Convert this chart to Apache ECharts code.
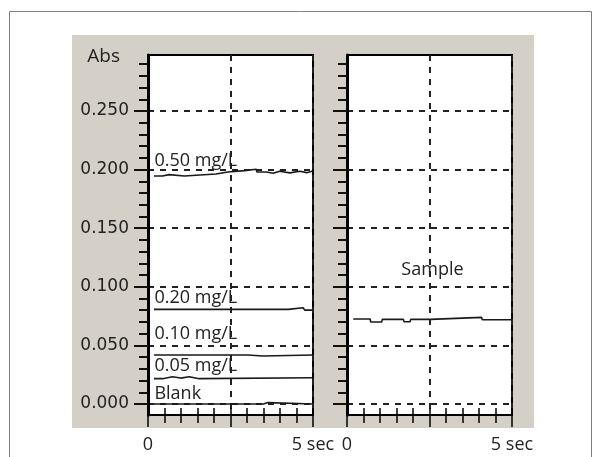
<!DOCTYPE html>
<html>
<head>
<meta charset="utf-8">
<title>Abs</title>
<script src="https://cdn.jsdelivr.net/npm/echarts@6/dist/echarts.min.js"></script>
<style>
    html, body { margin: 0; padding: 0; background: #fff; }
    #main { width: 600px; height: 457px; }
</style>
</head>
<body>
<div id="main"></div>
<script>
// traces, [time (s), Abs]
var std050 = [[0.18,0.1946],[0.44,0.1946],[0.45,0.1957],[0.64,0.1957],[0.65,0.1946],[1.10,0.1946],[1.11,0.1963],[2.06,0.1963],[2.07,0.198],[2.42,0.198],[2.45,0.1991],[2.93,0.1991],[2.95,0.2003],[3.28,0.2003],[3.30,0.198],[3.59,0.198],[3.60,0.1969],[3.79,0.1969],[3.80,0.1986],[3.99,0.1986],[4.00,0.1972],[4.30,0.1972],[4.31,0.1986],[4.60,0.1986],[4.61,0.1974],[4.81,0.1974],[4.82,0.1989],[5,0.1989]];
var std020 = [[0.18,0.0807],[4.25,0.0807],[4.30,0.0821],[4.70,0.0821],[4.75,0.0801],[5,0.0801]];
var std010 = [[0.18,0.0418],[3.03,0.0418],[3.05,0.0409],[3.48,0.0409],[3.50,0.0418],[5,0.0418]];
var std005 = [[0.18,0.0216],[0.44,0.0216],[0.45,0.0233],[0.74,0.0233],[0.75,0.0221],[0.99,0.0221],[1.00,0.0233],[1.25,0.0233],[1.26,0.0216],[1.55,0.0216],[1.56,0.0224],[5,0.0224]];
var blank = [[0.18,0],[3.50,0],[3.51,0.0012],[3.63,0.0012],[3.64,0],[5,0]];
var sample = [[0.19,0.0725],[0.70,0.0725],[0.72,0.0699],[1.05,0.0699],[1.07,0.0722],[1.71,0.0722],[1.73,0.0702],[1.91,0.0702],[1.93,0.0722],[2.52,0.0722],[2.53,0.0739],[4.08,0.0739],[4.10,0.0719],[5,0.0719]];

var stdNames = ['0.50 mg/L', '0.20 mg/L', '0.10 mg/L', '0.05 mg/L', 'Blank'];
var stdData = [std050, std020, std010, std005, blank];
var stdLabelAt = [[0.18, 0.2073], [0.18, 0.0909], [0.18, 0.0602], [0.18, 0.0324], [0.18, 0.0085]];
var sampleName = 'Sample';
var sampleLabelAt = [2.59, 0.1143];

var absTicks = [0, 0.05, 0.1, 0.15, 0.2, 0.25];
var absMinorTicks = [0.01,0.02,0.03,0.04,0.05,0.06,0.07,0.08,0.09,0.1,0.11,0.12,0.13,0.14,0.15,0.16,0.17,0.18,0.19,0.2,0.21,0.22,0.23,0.24,0.25,0.26,0.27,0.28,0.29];
var timeTicks = [0, 5];
var timeLabels = ['0', '5 sec'];

var absMin = -0.0094, absMax = 0.2978;
var ink = '#1a1a1a';
var dash = { color: '#222', width: 2, type: [6, 6] };
var textFont = 'Open Sans';

var panels = [
    { left: 148, top: 55, width: 165, height: 360 },
    { left: 347, top: 55, width: 165, height: 360 }
];

// grids 0,1 are the plots; grids 2,3 lie on top of them and only carry the short ticks
var grids = [], xAxes = [], yAxes = [];
panels.forEach(function (p) {
    grids.push({
        left: p.left, top: p.top, width: p.width, height: p.height,
        show: true, backgroundColor: '#fff', borderColor: '#000', borderWidth: 2,
        outerBoundsMode: 'none'
    });
});
panels.forEach(function (p) {
    grids.push({ left: p.left, top: p.top, width: p.width, height: p.height, show: false, outerBoundsMode: 'none' });
});

panels.forEach(function (p, gi) {
    xAxes.push({
        gridIndex: gi, type: 'value', min: 0, max: 5, interval: 2.5, position: 'bottom',
        axisLine: { onZero: false, lineStyle: { color: '#000', width: 1.5 } },
        axisTick: { length: 12, lineStyle: { color: '#000', width: 1.5 } },
        minorTick: { show: true, splitNumber: 5, length: 8, lineStyle: { color: '#000', width: 1.5 } },
        axisLabel: {
            customValues: timeTicks,
            formatter: function (v) { return timeLabels[timeTicks.indexOf(v)]; },
            margin: 21, color: '#222', fontFamily: textFont, fontSize: 18
        },
        splitLine: { show: true, lineStyle: dash }
    });
    yAxes.push({
        gridIndex: gi, type: 'value', min: absMin, max: absMax, position: 'left',
        name: gi === 0 ? 'Abs' : '',
        nameLocation: 'end', nameGap: -2,
        nameTextStyle: { align: 'right', verticalAlign: 'middle', padding: [0, 28, 0, 0], color: '#222', fontFamily: textFont, fontSize: 19 },
        axisLine: { onZero: false, lineStyle: { color: '#000', width: 3 } },
        axisTick: { customValues: absTicks, length: 14, lineStyle: { color: '#111', width: 2 } },
        axisLabel: {
            show: gi === 0, customValues: absTicks,
            formatter: function (v) { return v.toFixed(3); },
            margin: 19, color: '#222', fontFamily: 'DejaVu Sans', fontSize: 17
        },
        splitLine: { show: true, lineStyle: dash }
    });
});
panels.forEach(function (p, gi) {
    // upper half of the crossing time ticks
    xAxes.push({
        gridIndex: gi + 2, type: 'value', min: 0, max: 5, interval: 0.5, position: 'bottom',
        axisLine: { show: false, onZero: false },
        axisTick: { inside: true, length: 7, lineStyle: { color: '#000', width: 1.5 } },
        axisLabel: { show: false },
        splitLine: { show: false }
    });
    // 0.01 Abs ticks
    yAxes.push({
        gridIndex: gi + 2, type: 'value', min: absMin, max: absMax, position: 'left',
        axisLine: { show: false, onZero: false },
        axisTick: { customValues: absMinorTicks, length: 9, lineStyle: { color: '#111', width: 2 } },
        axisLabel: { show: false },
        splitLine: { show: false }
    });
});

function traceSeries(name, data, idx, at, pos) {
    return {
        name: name, type: 'line', data: data, xAxisIndex: idx, yAxisIndex: idx,
        symbol: 'none', z: 5,
        lineStyle: { color: ink, width: 1.6 },
        markPoint: {
            symbol: 'rect', symbolSize: 1, itemStyle: { color: 'rgba(0,0,0,0)' },
            label: { show: true, position: pos, distance: 0, formatter: name, color: '#222', fontFamily: textFont, fontSize: 18 },
            data: [{ coord: at }]
        }
    };
}

var series = stdNames.map(function (n, i) {
    return traceSeries(n, stdData[i], 0, stdLabelAt[i], 'right');
});
series.push(traceSeries(sampleName, sample, 1, sampleLabelAt, 'inside'));

var chart = echarts.init(document.getElementById('main'));
chart.setOption({
    animation: false,
    backgroundColor: '#fff',
    graphic: [
        { type: 'rect', z: -10, shape: { x: 9.5, y: 11.5, width: 582, height: 470 }, style: { fill: '#fff', stroke: '#808080', lineWidth: 1 } },
        { type: 'rect', z: -9, shape: { x: 72, y: 35, width: 462, height: 393 }, style: { fill: '#d4d0c8' } }
    ],
    grid: grids,
    xAxis: xAxes,
    yAxis: yAxes,
    series: series
});
</script>
</body>
</html>
